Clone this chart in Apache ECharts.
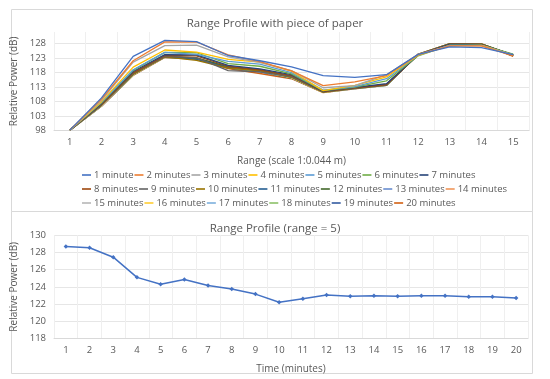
<!DOCTYPE html>
<html><head><meta charset="utf-8">
<script src="https://cdn.jsdelivr.net/npm/echarts@6/dist/echarts.min.js"></script>
<style>html,body{margin:0;padding:0;background:#fff}#c{width:550px;height:379px}</style>
</head><body><div id="c"></div>
<script>
const ranges = ['1','2','3','4','5','6','7','8','9','10','11','12','13','14','15'];
const minutes = ['1','2','3','4','5','6','7','8','9','10','11','12','13','14','15','16','17','18','19','20'];
const seriesNames = ['1 minute','2 minutes','3 minutes','4 minutes','5 minutes','6 minutes','7 minutes','8 minutes','9 minutes','10 minutes','11 minutes','12 minutes','13 minutes','14 minutes','15 minutes','16 minutes','17 minutes','18 minutes','19 minutes','20 minutes'];
const colors = ['#4472C4','#ED7D31','#A5A5A5','#FFC000','#5B9BD5','#70AD47','#264478','#9E480E','#636363','#997300','#255E91','#43682B','#698ED0','#F1975A','#B7B7B7','#FFCD33','#7CAFDD','#8CC168','#335AA1','#D26012'];
const m1  = [98.2,109.3,123.6,129.1,128.7,123.9,122.1,120.0,117.0,116.4,117.3,124.3,126.9,126.6,124.2];
const m2  = [98.2,108.9,122.1,128.6,128.55,124.1,121.8,118.6,113.5,114.8,117.0,124.2,127.2,127.2,123.8];
const m3  = [98.2,108.5,121.6,127.3,127.45,123.4,121.5,118.7,112.8,113.5,117.3,124.3,127.3,127.3,124.0];
const m4  = [98.2,108.0,119.9,125.8,125.1,122.6,121.6,118.5,111.8,113.6,116.5,124.0,127.2,127.4,124.0];
const m5  = [98.2,107.8,119.0,125.0,124.3,121.9,120.9,118.0,112.0,113.2,115.9,124.0,127.4,127.4,124.1];
const m6  = [98.2,107.6,118.8,125.0,124.85,121.1,120.2,117.6,111.8,113.0,115.2,123.8,127.5,127.5,124.4];
const m7  = [98.2,107.4,118.4,124.2,124.15,120.5,119.3,117.3,111.6,112.9,114.2,124.1,127.7,127.6,124.2];
const m8  = [98.2,107.2,118.0,123.9,123.75,120.2,119.0,117.0,111.5,112.8,113.9,124.1,127.8,127.7,124.0];
const m9  = [98.2,107.0,117.8,123.6,123.15,118.7,118.3,116.6,111.4,112.7,113.8,124.2,127.8,127.8,123.9];
const m10 = [98.2,106.9,117.5,123.4,122.2,119.6,118.6,116.4,111.3,112.6,113.8,124.3,127.9,127.8,123.8];
const m11 = [98.2,106.9,117.6,123.5,122.6,119.8,118.8,116.7,111.5,112.7,113.9,124.2,127.8,127.7,124.0];
const m12 = [98.2,106.8,117.5,123.6,123.05,120.0,118.9,116.5,111.4,112.6,113.7,124.2,127.9,127.8,124.1];
const m13 = [98.2,106.8,117.5,123.5,122.9,120.1,118.9,116.6,111.4,112.6,113.8,124.3,127.8,127.7,124.0];
const m14 = [98.2,106.7,117.4,123.4,122.95,119.9,118.7,116.4,111.3,112.6,113.8,124.3,127.9,127.8,123.9];
const m15 = [98.2,106.7,117.4,123.5,122.9,119.9,118.8,116.5,111.4,112.5,113.8,124.3,127.9,127.8,124.0];
const m16 = [98.2,106.6,117.3,123.4,122.95,119.8,118.6,116.3,111.2,112.6,113.7,124.3,127.9,127.9,123.9];
const m17 = [98.2,106.6,117.3,123.4,122.95,119.8,118.6,116.3,111.3,112.5,113.7,124.2,127.9,127.8,124.0];
const m18 = [98.2,106.5,117.2,123.3,122.85,119.7,118.4,116.2,111.2,112.5,113.6,124.3,128.0,127.9,123.9];
const m19 = [98.2,106.5,117.2,123.3,122.85,119.6,118.3,116.1,111.2,112.5,113.6,124.3,128.0,127.9,123.8];
const m20 = [98.2,106.4,117.0,123.2,122.7,119.4,117.7,115.9,111.1,112.4,113.6,124.4,128.0,127.9,123.6];
const range5 = [128.7,128.55,127.45,125.1,124.3,124.85,124.15,123.75,123.15,122.2,122.6,123.05,122.9,122.95,122.9,122.95,122.95,122.85,122.85,122.7];
const topTicks = {min: 98, max: 132, interval: 5};
const botTicks = {min: 118, max: 130, interval: 2};

const allTop = [m1,m2,m3,m4,m5,m6,m7,m8,m9,m10,m11,m12,m13,m14,m15,m16,m17,m18,m19,m20];
const FONT = 'Open Sans';
const TXT = '#595959';
const GRID = '#E6E6E6';

const chart = echarts.init(document.getElementById('c'), null, {renderer: 'canvas'});
const legendBase = (rowNames, top) => ({
  left: 82, top: top, orient: 'horizontal', icon: 'rect', itemWidth: 9, itemHeight: 1.6,
  itemGap: 1, padding: 0, selectedMode: false,
  textStyle: {fontFamily: FONT, fontSize: 9.5, color: TXT, width: 38, padding: [0,0,0,-2]},
  data: rowNames
});

const series = allTop.map((d, i) => ({
  name: seriesNames[i], type: 'line', xAxisIndex: 0, yAxisIndex: 0,
  data: d, showSymbol: false, symbol: 'none', lineStyle: {width: 1.3, color: colors[i]},
  itemStyle: {color: colors[i]}, z: 20 - i, animation: false
}));
series.push({
  name: 'range5', type: 'line', xAxisIndex: 1, yAxisIndex: 1, data: range5,
  symbol: 'diamond', symbolSize: 4.5, lineStyle: {width: 1.5, color: '#4472C4'},
  itemStyle: {color: '#4472C4'}, animation: false
});

const splitTop = [];
for (let v = topTicks.min; v <= topTicks.max; v += topTicks.interval) splitTop.push(GRID);
splitTop.push('rgba(0,0,0,0)');

chart.setOption({
  animation: false,
  color: colors,
  graphic: [
    {type: 'rect', shape: {x: 11.5, y: 9.5, width: 521, height: 202}, style: {fill: 'none', stroke: '#D9D9D9', lineWidth: 1}, silent: true},
    {type: 'rect', shape: {x: 11.5, y: 211.5, width: 521, height: 162}, style: {fill: 'none', stroke: '#D9D9D9', lineWidth: 1}, silent: true}
  ],
  title: [
    {text: 'Range Profile with piece of paper', left: 'center', top: 13, textStyle: {fontFamily: FONT, fontSize: 11.5, fontWeight: 'normal', color: TXT}},
    {text: 'Range Profile (range = 5)', left: 'center', top: 218, textStyle: {fontFamily: FONT, fontSize: 11.5, fontWeight: 'normal', color: TXT}}
  ],
  legend: [
    legendBase(seriesNames.slice(0, 7), 170),
    legendBase(seriesNames.slice(7, 14), 184),
    legendBase(seriesNames.slice(14, 20), 198)
  ],
  grid: [
    {left: 54, right: 21, top: 32, height: 98.7, containLabel: false},
    {left: 54, right: 22, top: 235.3, height: 103, containLabel: false}
  ],
  xAxis: [
    {type: 'category', gridIndex: 0, data: ranges, boundaryGap: true,
     name: 'Range (scale 1:0.044 m)', nameLocation: 'middle', nameGap: 25,
     nameTextStyle: {fontFamily: FONT, fontSize: 10, color: TXT},
     axisLine: {lineStyle: {color: '#D9D9D9'}}, axisTick: {show: false},
     axisLabel: {fontFamily: FONT, fontSize: 9.5, color: TXT, margin: 7, interval: 0},
     splitLine: {show: true, interval: 0, lineStyle: {color: '#EFEFEF'}}},
    {type: 'category', gridIndex: 1, data: minutes, boundaryGap: true,
     name: 'Time (minutes)', nameLocation: 'middle', nameGap: 26,
     nameTextStyle: {fontFamily: FONT, fontSize: 10, color: TXT},
     axisLine: {lineStyle: {color: '#D9D9D9'}}, axisTick: {show: false},
     axisLabel: {fontFamily: FONT, fontSize: 9.5, color: TXT, margin: 7, interval: 0},
     splitLine: {show: true, interval: 0, lineStyle: {color: '#EFEFEF'}}}
  ],
  yAxis: [
    {type: 'value', gridIndex: 0, min: topTicks.min, max: topTicks.max, interval: topTicks.interval,
     name: 'Relative Power (dB)', nameLocation: 'middle', nameGap: 30,
     nameTextStyle: {fontFamily: FONT, fontSize: 10, color: TXT},
     axisLine: {show: false}, axisTick: {show: false},
     axisLabel: {fontFamily: FONT, fontSize: 9.5, color: TXT, margin: 8, showMaxLabel: false},
     splitLine: {show: true, lineStyle: {color: splitTop}}},
    {type: 'value', gridIndex: 1, min: botTicks.min, max: botTicks.max, interval: botTicks.interval,
     name: 'Relative Power (dB)', nameLocation: 'middle', nameGap: 30,
     nameTextStyle: {fontFamily: FONT, fontSize: 10, color: TXT},
     axisLine: {show: false}, axisTick: {show: false},
     axisLabel: {fontFamily: FONT, fontSize: 9.5, color: TXT, margin: 8},
     splitLine: {show: true, lineStyle: {color: GRID}}}
  ],
  series: series
});
</script></body></html>
